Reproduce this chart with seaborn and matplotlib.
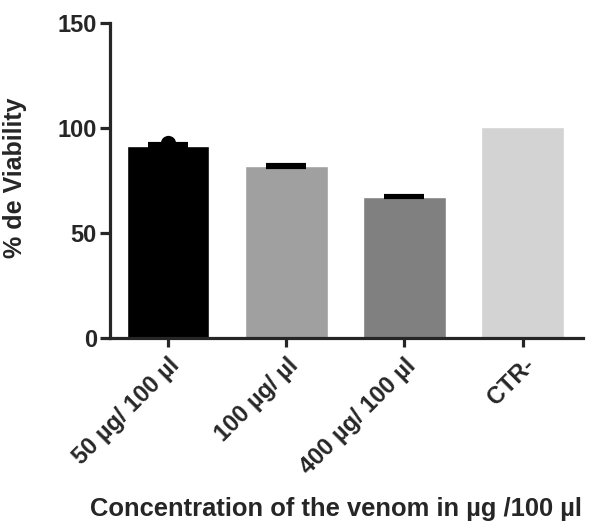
import numpy as np
import pandas as pd
import matplotlib
matplotlib.use('Agg')
import matplotlib.pyplot as plt
import seaborn as sns

# datos
categorias = ['50 µg/ 100 µl', '100 µg/ µl', '400 µg/ 100 µl', 'CTR-']
viabilidad = [91.6, 82.0, 67.3, 100.6]
sem = [1.0, 0.5, 0.3, np.nan]  # CTR- sin barra de error
colores = ['#000000', '#a0a0a0', '#808080', '#d3d3d3']
# réplica visible por encima de la primera barra
puntos_cat = ['50 µg/ 100 µl']
puntos_val = [93.0]

sns.set_style('ticks')
plt.rcParams['font.family'] = ['Liberation Sans', 'DejaVu Sans']
plt.rcParams['font.weight'] = 'bold'

df = pd.DataFrame({'cat': categorias, 'val': viabilidad, 'sem': sem})
con_error = df.dropna()

fig = plt.figure(figsize=(5.9, 5.24), dpi=100)
ax = fig.add_axes([0.1864, 0.355, 0.8016, 0.601])

sns.barplot(data=df, x='cat', y='val', hue='cat', palette=colores,
            width=0.7, errorbar=None, legend=False, ax=ax, zorder=2)
sns.stripplot(x=puntos_cat, y=puntos_val, order=categorias, color='black',
              jitter=False, size=11, ax=ax, zorder=1)
ax.errorbar(con_error.index, con_error['val'], yerr=con_error['sem'], fmt='none',
            ecolor='black', elinewidth=2.5, capsize=14.5, capthick=3, zorder=3)

ax.set_xlim(-0.49, 3.51)
ax.set_ylim(0, 150)
ax.set_yticks([0, 50, 100, 150])

for s in ['top', 'right']:
    ax.spines[s].set_visible(False)
for s in ['left', 'bottom']:
    ax.spines[s].set_linewidth(2.3)
ax.tick_params(axis='y', length=7.5, width=2.3, labelsize=17, pad=2)
ax.tick_params(axis='x', length=6.5, width=2.3, labelsize=17, pad=5)
for lab in ax.get_xticklabels():
    lab.set_rotation(45)
    lab.set_ha('right')
    lab.set_rotation_mode('anchor')
    lab.set_fontweight('bold')
for lab in ax.get_yticklabels():
    lab.set_fontweight('bold')

ax.set_ylabel('% de Viability', fontsize=18, fontweight='bold')
ax.set_xlabel('Concentration of the venom in µg /100 µl', fontsize=18.4, fontweight='bold')
ax.yaxis.set_label_coords(-0.175, 0.51)
ax.xaxis.set_label_coords(0.478, -0.505)

fig.savefig('out.png', dpi=100)
